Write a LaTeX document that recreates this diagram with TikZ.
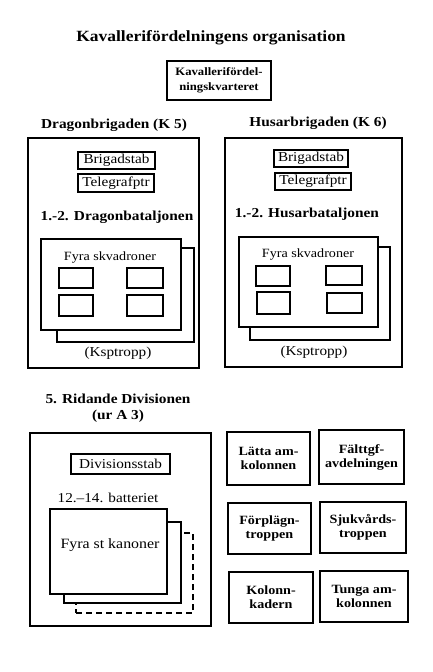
\documentclass[tikz,border=0pt]{standalone}
\usepackage{fontspec}
\setmainfont[FakeStretch=1.12]{Liberation Serif}
\usetikzlibrary{fit}
\begin{document}
\begin{tikzpicture}[x=1pt,y=-1pt,
  frame/.style={draw, line width=1.1pt, inner sep=0pt, fill=white},
  lbl/.style={inner sep=0pt, align=center},
  head/.style={lbl, font=\fontsize{13.7}{16}\selectfont\bfseries},
  unit/.style={lbl, font=\fontsize{12.6}{14}\selectfont\bfseries},
  plain/.style={lbl, font=\fontsize{13.6}{15}\selectfont},
]
\useasboundingbox (0,0) rectangle (432,672);
% title
\node[lbl, font=\fontsize{15.6}{18}\selectfont\bfseries] (title) at (211,38) {Kavallerifördelningens organisation};
\node[frame, fit={(167,61) (271,100)}] (hq) {};
\node[lbl, font=\fontsize{11.3}{15.5}\selectfont\bfseries] (hqt) at (hq.center) {Kavallerifördel-\\ningskvarteret};

% Dragonbrigaden
\node[head] (dragh) at (114,125) {Dragonbrigaden (K 5)};
\node[frame, fit={(28,138) (199,368)}] (drag) {};
\node[frame, fit={(78,152) (155,169)}] (dbs) {};
\node[plain] at (dbs.center) {Brigadstab};
\node[frame, fit={(78,174) (154,192)}] (dtg) {};
\node[plain] at (dtg.center) {Telegrafptr};
\node[head] (dbat) at (117,217) {1.-2. Dragonbataljonen};
\node[frame, fit={(57,248) (194,342)}] (dback) {};
\node[frame, fit={(41,239) (181,330)}] (dfront) {};
\node[plain, font=\fontsize{12.6}{15}\selectfont] (dfs) at (110,257) {Fyra skvadroner};
\node[frame, fit={(59,268) (93,288)}] (ds1) {};
\node[frame, fit={(127,268) (163,288)}] (ds2) {};
\node[frame, fit={(59,295) (93,316)}] (ds3) {};
\node[frame, fit={(127,295) (163,316)}] (ds4) {};
\node[plain] (dksp) at (118,353) {(Ksptropp)};

% Husarbrigaden
\node[head] (hush) at (318,123) {Husarbrigaden (K 6)};
\node[frame, fit={(225,138) (402,367)}] (hus) {};
\node[frame, fit={(274,150) (348,167)}] (hbs) {};
\node[plain] at (hbs.center) {Brigadstab};
\node[frame, fit={(275,173) (351,190)}] (htg) {};
\node[plain] at (htg.center) {Telegrafptr};
\node[head] (hbat) at (307,214) {1.-2. Husarbataljonen};
\node[frame, fit={(250,247) (390,340)}] (hback) {};
\node[frame, fit={(239,237) (378,327)}] (hfront) {};
\node[plain, font=\fontsize{12.6}{15}\selectfont] (hfs) at (308,254) {Fyra skvadroner};
\node[frame, fit={(256,266) (290,286)}] (hs1) {};
\node[frame, fit={(326,266) (362,285)}] (hs2) {};
\node[frame, fit={(257,292) (290,314)}] (hs3) {};
\node[frame, fit={(327,293) (362,313)}] (hs4) {};
\node[plain] (hksp) at (314,352) {(Ksptropp)};

% Ridande divisionen
\node[head] (ridh) at (118,408) {5. Ridande Divisionen\\(ur A 3)};
\node[frame, fit={(30,433) (211,626)}] (rid) {};
\node[frame, fit={(71,454) (170,474)}] (rds) {};
\node[plain] at (rds.center) {Divisionsstab};
\node[plain] (rbat) at (108,498) {12.–14. batteriet};
\node[frame, dashed, dash pattern=on 6pt off 4pt, fit={(76,533) (193,613)}] (rb3) {};
\node[frame, fit={(64,522) (181,603)}] (rb2) {};
\node[frame, fit={(50,509) (167,594)}] (rb1) {};
\node[plain, font=\fontsize{14.2}{16}\selectfont] (rkan) at (110,545) {Fyra st kanoner};

% right boxes
\node[frame, fit={(227,432) (310,485)}] (b1) {};
\node[unit] at (b1.center) {Lätta am-\\kolonnen};
\node[frame, fit={(319,430) (404,484)}] (b2) {};
\node[unit] at (b2.center) {Fälttgf-\\avdelningen};
\node[frame, fit={(228,503) (311,554)}] (b3) {};
\node[unit] at (b3.center) {Förplägn-\\troppen};
\node[frame, fit={(320,502) (406,553)}] (b4) {};
\node[unit] at (b4.center) {Sjukvårds-\\troppen};
\node[frame, fit={(229,572) (313,623)}] (b5) {};
\node[unit] at (b5.center) {Kolonn-\\kadern};
\node[frame, fit={(320,571) (408,622)}] (b6) {};
\node[unit] at (b6.center) {Tunga am-\\kolonnen};
\end{tikzpicture}
\end{document}
